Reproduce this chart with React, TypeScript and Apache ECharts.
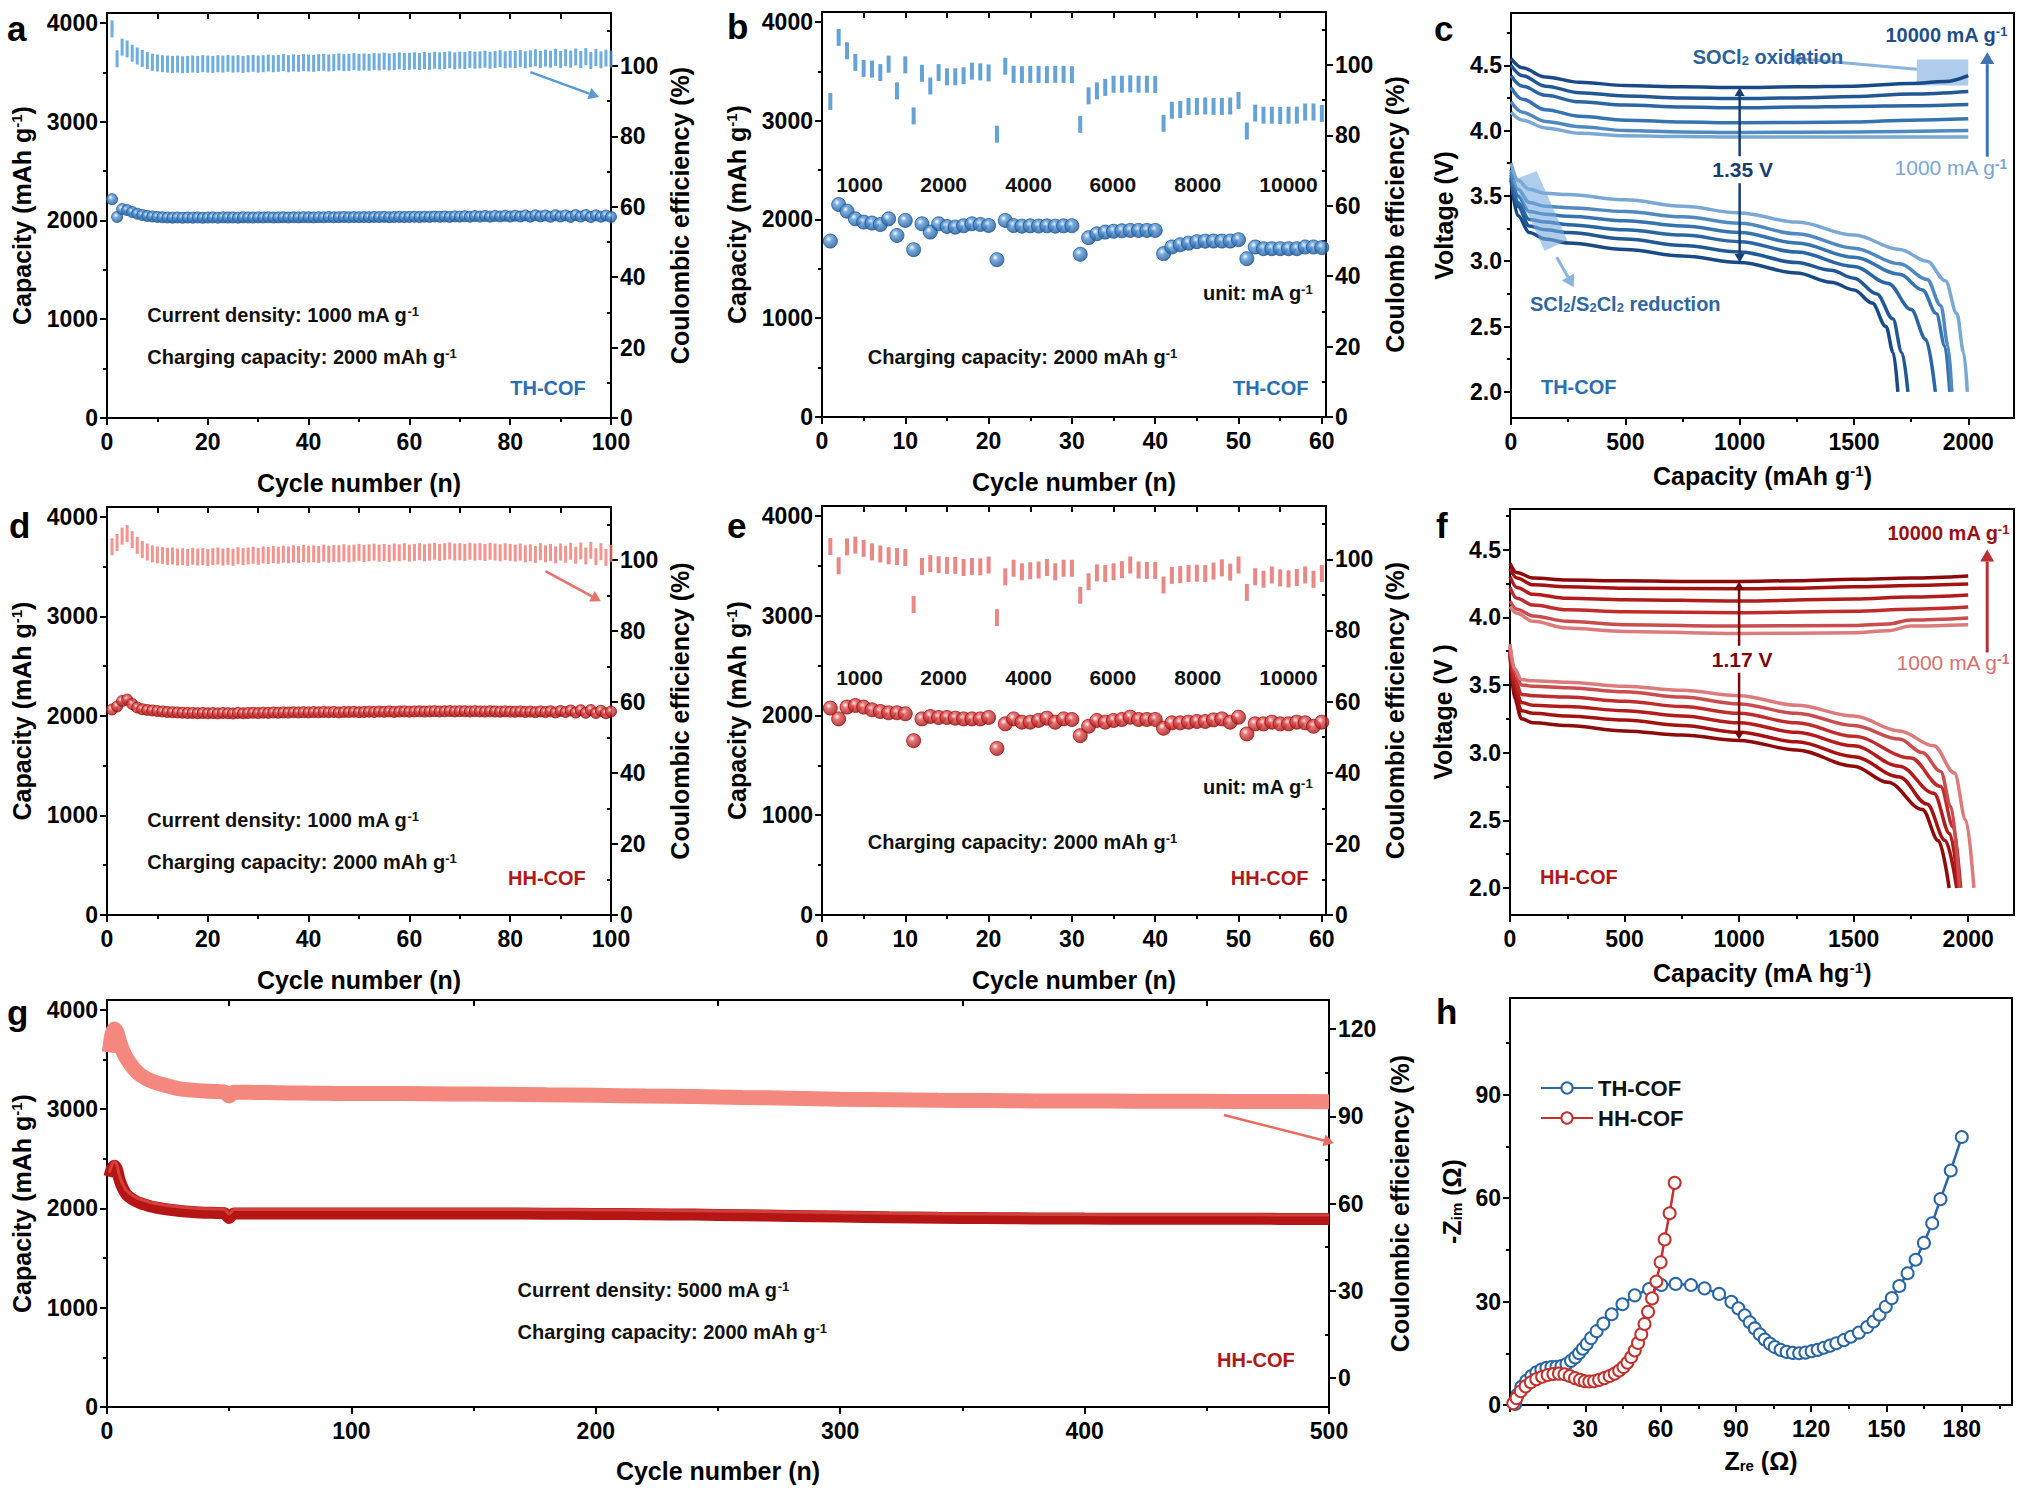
import React, { useEffect, useRef } from "react";
import * as echarts from "echarts";

const FONT = "Arial, 'Liberation Sans', Helvetica, sans-serif";

// ---------- tick arrays ----------
const capMajor = [0, 1000, 2000, 3000, 4000];
const capMinor = [500, 1500, 2500, 3500];
const ceMajor = [0, 20, 40, 60, 80, 100];
const ceMinor = [10, 30, 50, 70, 90, 110];
const cyc100Major = [0, 20, 40, 60, 80, 100];
const cyc100Minor = [10, 30, 50, 70, 90];
const cyc100Top = [10, 20, 30, 40, 50, 60, 70, 80, 90];
const cyc60Major = [0, 10, 20, 30, 40, 50, 60];
const cyc60Minor = [5, 15, 25, 35, 45, 55];
const cyc60Top = [5, 10, 15, 20, 25, 30, 35, 40, 45, 50, 55];
const vMajor = [2, 2.5, 3, 3.5, 4, 4.5];
const vMinor = [2.25, 2.75, 3.25, 3.75, 4.25, 4.75];
const qMajor = [0, 500, 1000, 1500, 2000];
const qMinor = [250, 750, 1250, 1750];
const gxMajor = [0, 100, 200, 300, 400, 500];
const gxMinor = [50, 150, 250, 350, 450];
const gceMajor = [0, 30, 60, 90, 120];
const gceMinor = [15, 45, 75, 105];
const hxMajor = [0, 30, 60, 90, 120, 150, 180];
const hxLabels = [30, 60, 90, 120, 150, 180];
const hxMinor = [15, 45, 75, 105, 135, 165, 195];
const hyMajor = [0, 30, 60, 90];
const hyMinor = [15, 45, 75, 105];

// ---------- panel a (TH-COF, 1000 mA/g, 100 cycles) ----------
const cyclesA = Array.from({ length: 100 }, (_, i) => i + 1);
const ceA = [
  110.5, 102.0, 105.3, 104.8, 103.6, 102.8, 102.1, 101.5, 101.0, 100.8,
  100.6, 100.5, 100.4, 100.5, 100.3, 100.4, 100.5, 100.4, 100.6, 100.5,
  100.4, 100.6, 100.5, 100.7, 100.5, 100.6, 100.4, 100.6, 100.7, 100.5,
  100.6, 100.8, 100.6, 100.7, 100.9, 100.6, 100.8, 100.7, 100.9, 100.8,
  100.7, 100.9, 101.0, 100.8, 100.9, 101.1, 100.9, 101.0, 101.2, 101.0,
  101.1, 101.0, 101.2, 101.1, 101.3, 101.1, 101.2, 101.4, 101.2, 101.3,
  101.4, 101.2, 101.5, 101.3, 101.6, 101.4, 101.5, 101.7, 101.4, 101.6,
  101.5, 101.8, 101.6, 101.7, 101.9, 101.6, 101.8, 102.0, 101.7, 101.9,
  101.8, 102.1, 101.7, 102.0, 102.3, 101.8, 102.2, 101.9, 102.4, 101.8,
  102.3, 101.9, 102.5, 101.8, 102.6, 101.5, 102.4, 101.7, 102.2, 101.9,
];
const capA = [
  2215, 2035, 2115, 2105, 2085, 2068, 2055, 2045, 2040, 2036,
  2032, 2030, 2028, 2030, 2027, 2029, 2028, 2030, 2027, 2029,
  2030, 2028, 2031, 2029, 2030, 2028, 2031, 2030, 2029, 2031,
  2030, 2032, 2030, 2031, 2033, 2030, 2032, 2031, 2033, 2032,
  2031, 2033, 2032, 2034, 2032, 2033, 2035, 2032, 2034, 2033,
  2034, 2033, 2035, 2034, 2036, 2033, 2035, 2036, 2034, 2036,
  2037, 2035, 2038, 2036, 2039, 2037, 2040, 2036, 2041, 2038,
  2042, 2037, 2044, 2039, 2045, 2038, 2046, 2040, 2047, 2039,
  2048, 2040, 2050, 2038, 2052, 2041, 2050, 2037, 2053, 2040,
  2051, 2036, 2054, 2039, 2055, 2035, 2052, 2038, 2050, 2036,
];

// ---------- panel b (TH-COF rate) ----------
const cyclesB = Array.from({ length: 60 }, (_, i) => i + 1);
const ceB = [
  89.6, 107.8, 104.0, 100.7, 99.0, 98.8, 97.8, 100.2, 92.6, 100.0,
  85.5, 97.6, 94.0, 97.8, 96.6, 96.6, 96.9, 98.2, 98.0, 97.7,
  80.3, 99.6, 97.3, 97.2, 97.3, 97.3, 97.2, 97.3, 97.3, 97.2,
  83.1, 91.2, 92.6, 93.6, 94.5, 94.5, 94.6, 94.5, 94.5, 94.4,
  83.4, 87.1, 87.3, 88.2, 88.2, 88.3, 88.2, 88.2, 88.3, 89.9,
  81.2, 86.3, 85.7, 85.7, 85.6, 85.7, 85.7, 86.6, 86.6, 86.2,
];
const capB = [
  1781, 2151, 2084, 2006, 1973, 1963, 1949, 2006, 1838, 1990,
  1694, 1956, 1872, 1956, 1929, 1922, 1936, 1956, 1949, 1939,
  1593, 1990, 1938, 1932, 1935, 1933, 1935, 1932, 1935, 1936,
  1647, 1815, 1855, 1872, 1880, 1885, 1889, 1889, 1889, 1889,
  1654, 1721, 1744, 1760, 1775, 1780, 1781, 1781, 1781, 1795,
  1603, 1721, 1704, 1704, 1704, 1704, 1704, 1721, 1721, 1715,
];
const rateLabels = ["1000", "2000", "4000", "6000", "8000", "10000"];
const rateLabelX = [4.5, 14.6, 24.8, 34.9, 45.1, 56];

// ---------- panel c (TH-COF voltage profiles) ----------
const rateNames = ["10000", "8000", "6000", "4000", "2000", "1000"];
const cChg10000 = [[0, 4.55], [50, 4.48], [150, 4.41], [300, 4.37], [500, 4.345], [750, 4.335], [1000, 4.33], [1250, 4.335], [1500, 4.34], [1750, 4.36], [1900, 4.375], [2000, 4.42]];
const cChg8000 = [[0, 4.5], [50, 4.42], [150, 4.34], [300, 4.29], [500, 4.265], [750, 4.25], [1000, 4.245], [1250, 4.25], [1500, 4.26], [1750, 4.28], [2000, 4.3]];
const cChg6000 = [[0, 4.42], [50, 4.34], [150, 4.27], [300, 4.22], [500, 4.195], [750, 4.18], [1000, 4.175], [1250, 4.18], [1500, 4.185], [1750, 4.19], [2000, 4.2]];
const cChg4000 = [[0, 4.33], [50, 4.24], [150, 4.16], [300, 4.11], [500, 4.08], [750, 4.065], [1000, 4.06], [1500, 4.065], [1750, 4.08], [2000, 4.09]];
const cChg2000 = [[0, 4.22], [50, 4.14], [150, 4.07], [300, 4.03], [500, 4.0], [750, 3.99], [1000, 3.985], [1500, 3.99], [2000, 4.0]];
const cChg1000 = [[0, 4.14], [50, 4.08], [150, 4.02], [300, 3.98], [500, 3.96], [750, 3.955], [1000, 3.95], [1500, 3.95], [2000, 3.95]];
const cDis10000 = [[0, 3.62], [30, 3.35], [80, 3.22], [150, 3.17], [250, 3.14], [500, 3.09], [750, 3.04], [1000, 2.99], [1250, 2.91], [1400, 2.84], [1500, 2.78], [1580, 2.68], [1640, 2.5], [1672, 2.3], [1692, 2.0]];
const cDis8000 = [[0, 3.64], [30, 3.42], [80, 3.27], [150, 3.24], [250, 3.22], [500, 3.17], [750, 3.12], [1000, 3.07], [1250, 2.99], [1400, 2.93], [1500, 2.87], [1600, 2.75], [1670, 2.56], [1710, 2.3], [1736, 2.0]];
const cDis6000 = [[0, 3.66], [30, 3.45], [80, 3.32], [150, 3.3], [250, 3.28], [500, 3.24], [750, 3.2], [1000, 3.15], [1250, 3.07], [1500, 2.96], [1650, 2.83], [1750, 2.63], [1815, 2.4], [1856, 2.0]];
const cDis4000 = [[0, 3.68], [30, 3.5], [80, 3.38], [150, 3.36], [250, 3.345], [500, 3.31], [750, 3.27], [1000, 3.22], [1250, 3.14], [1500, 3.03], [1700, 2.9], [1800, 2.78], [1860, 2.6], [1898, 2.35], [1919, 2.0]];
const cDis2000 = [[0, 3.7], [30, 3.55], [80, 3.45], [150, 3.42], [250, 3.41], [500, 3.38], [750, 3.34], [1000, 3.29], [1250, 3.21], [1500, 3.1], [1700, 2.98], [1820, 2.86], [1880, 2.66], [1912, 2.35], [1928, 2.0]];
const cDis1000 = [[0, 3.75], [30, 3.62], [80, 3.55], [150, 3.52], [250, 3.51], [500, 3.47], [750, 3.42], [1000, 3.37], [1250, 3.3], [1500, 3.2], [1700, 3.09], [1820, 3.0], [1900, 2.85], [1950, 2.6], [1980, 2.3], [1996, 2.0]];

// ---------- panel d (HH-COF, 1000 mA/g) ----------
const ceD = [
  103.8, 105.0, 106.8, 107.5, 105.8, 104.2, 103.0, 102.3, 101.8, 101.5,
  101.3, 101.1, 101.2, 100.9, 101.0, 100.8, 101.1, 100.9, 101.0, 100.8,
  101.0, 101.2, 100.9, 101.1, 100.8, 101.3, 101.0, 101.2, 101.4, 101.1,
  101.5, 101.3, 101.6, 101.4, 101.7, 101.5, 101.8, 101.6, 101.9, 101.7,
  101.8, 101.6, 102.0, 101.7, 101.9, 101.8, 102.1, 101.8, 102.0, 102.2,
  101.9, 102.1, 102.3, 102.0, 102.2, 101.9, 102.3, 102.1, 102.4, 102.0,
  102.2, 102.4, 102.1, 102.3, 102.5, 102.2, 102.4, 102.6, 102.3, 102.4,
  102.2, 102.5, 102.3, 102.4, 102.2, 102.5, 102.3, 102.1, 102.4, 102.2,
  102.0, 102.3, 101.8, 102.1, 101.6, 102.4, 101.8, 102.2, 101.5, 102.3,
  101.7, 102.5, 101.4, 102.6, 101.2, 102.8, 101.0, 102.4, 100.8, 101.9,
];
const capD = [
  2065, 2095, 2150, 2165, 2120, 2085, 2068, 2060, 2055, 2050,
  2045, 2040, 2038, 2035, 2033, 2030, 2031, 2028, 2030, 2027,
  2029, 2026, 2030, 2028, 2025, 2031, 2027, 2030, 2032, 2029,
  2033, 2031, 2035, 2032, 2036, 2034, 2037, 2035, 2038, 2036,
  2039, 2037, 2040, 2038, 2041, 2036, 2040, 2039, 2042, 2038,
  2041, 2043, 2040, 2044, 2042, 2045, 2041, 2044, 2046, 2043,
  2045, 2047, 2044, 2046, 2048, 2045, 2047, 2049, 2046, 2048,
  2047, 2045, 2048, 2046, 2044, 2047, 2045, 2043, 2046, 2044,
  2042, 2045, 2040, 2044, 2038, 2046, 2039, 2047, 2036, 2050,
  2040, 2055, 2035, 2058, 2032, 2060, 2030, 2052, 2028, 2045,
];

// ---------- panel e (HH-COF rate) ----------
const ceE = [
  103.6, 98.2, 103.5, 104.0, 103.1, 102.1, 101.5, 101.0, 100.8, 100.5,
  87.3, 98.0, 98.8, 98.5, 98.3, 98.3, 97.7, 98.0, 97.9, 98.4,
  83.6, 95.1, 97.5, 96.5, 96.8, 97.0, 97.7, 96.5, 97.5, 97.5,
  89.9, 93.7, 96.2, 96.0, 96.5, 97.1, 98.4, 97.0, 96.9, 96.9,
  92.8, 95.5, 95.7, 96.0, 96.1, 96.0, 96.7, 97.6, 96.4, 98.4,
  90.7, 95.1, 94.4, 95.6, 94.8, 94.5, 94.9, 95.6, 94.4, 96.0,
];
const capE = [
  2074, 1966, 2084, 2100, 2084, 2057, 2040, 2027, 2027, 2017,
  1748, 1966, 1990, 1980, 1980, 1973, 1966, 1966, 1966, 1980,
  1670, 1916, 1966, 1933, 1933, 1950, 1973, 1933, 1966, 1960,
  1798, 1892, 1950, 1933, 1950, 1960, 1983, 1960, 1960, 1960,
  1872, 1926, 1926, 1933, 1940, 1940, 1956, 1966, 1933, 1983,
  1815, 1916, 1916, 1933, 1916, 1916, 1933, 1926, 1892, 1933,
];

// ---------- panel f (HH-COF voltage profiles) ----------
const fChg10000 = [[0, 4.4], [30, 4.33], [100, 4.29], [250, 4.275], [500, 4.27], [750, 4.265], [1000, 4.265], [1250, 4.27], [1500, 4.28], [1750, 4.29], [2000, 4.305]];
const fChg8000 = [[0, 4.36], [30, 4.29], [100, 4.24], [250, 4.225], [500, 4.215], [1000, 4.21], [1250, 4.215], [1500, 4.225], [1750, 4.235], [2000, 4.245]];
const fChg6000 = [[0, 4.3], [30, 4.22], [100, 4.17], [250, 4.14], [500, 4.13], [1000, 4.12], [1500, 4.135], [1750, 4.15], [2000, 4.165]];
const fChg4000 = [[0, 4.22], [30, 4.14], [100, 4.09], [250, 4.055], [500, 4.04], [1000, 4.033], [1500, 4.045], [1750, 4.06], [2000, 4.075]];
const fChg2000 = [[0, 4.12], [30, 4.06], [100, 4.01], [250, 3.97], [500, 3.945], [1000, 3.935], [1500, 3.94], [1650, 3.95], [1750, 3.98], [2000, 3.995]];
const fChg1000 = [[0, 4.08], [30, 4.03], [100, 3.97], [250, 3.92], [500, 3.895], [1000, 3.88], [1500, 3.885], [1650, 3.9], [1750, 3.935], [2000, 3.945]];
const fDis10000 = [[0, 3.72], [20, 3.4], [50, 3.25], [100, 3.22], [250, 3.2], [500, 3.16], [750, 3.13], [1000, 3.09], [1250, 3.02], [1500, 2.9], [1650, 2.78], [1800, 2.58], [1870, 2.35], [1917, 2.0]];
const fDis8000 = [[0, 3.74], [20, 3.45], [50, 3.31], [100, 3.29], [250, 3.27], [500, 3.24], [750, 3.2], [1000, 3.15], [1250, 3.08], [1500, 2.97], [1700, 2.82], [1820, 2.62], [1900, 2.35], [1950, 2.0]];
const fDis6000 = [[0, 3.75], [20, 3.5], [50, 3.37], [100, 3.35], [250, 3.34], [500, 3.31], [750, 3.27], [1000, 3.22], [1250, 3.15], [1500, 3.05], [1700, 2.9], [1850, 2.7], [1920, 2.4], [1958, 2.0]];
const fDis4000 = [[0, 3.76], [20, 3.55], [50, 3.43], [100, 3.42], [250, 3.41], [500, 3.38], [750, 3.34], [1000, 3.29], [1250, 3.22], [1500, 3.12], [1750, 2.96], [1880, 2.75], [1935, 2.45], [1967, 2.0]];
const fDis2000 = [[0, 3.78], [20, 3.6], [50, 3.5], [100, 3.49], [250, 3.48], [500, 3.45], [750, 3.41], [1000, 3.36], [1250, 3.29], [1500, 3.2], [1700, 3.1], [1800, 3.0], [1880, 2.86], [1925, 2.6], [1962, 2.0]];
const fDis1000 = [[0, 3.8], [20, 3.62], [50, 3.54], [100, 3.53], [250, 3.52], [500, 3.49], [750, 3.46], [1000, 3.42], [1250, 3.35], [1500, 3.27], [1700, 3.16], [1850, 3.05], [1940, 2.85], [1990, 2.5], [2025, 2.0]];

// ---------- panel g (HH-COF, 5000 mA/g, 500 cycles) ----------
const gCycles = [1, 2, 3, 4, 5, 6, 7, 8, 10, 12, 14, 16, 18, 20, 25, 30, 35, 40, 45, 48, 50, 52, 55, 60, 70, 80, 90, 100, 120, 140, 160, 180, 200, 220, 240, 260, 280, 300, 320, 340, 360, 380, 400, 420, 440, 460, 480, 500];
const gCE = [112, 118, 120, 119, 116, 113.5, 111.5, 110, 107.5, 105.5, 104, 103, 102.2, 101.6, 100.4, 99.4, 99.0, 98.7, 98.5, 98.4, 97.0, 98.3, 98.3, 98.2, 98.1, 98.0, 97.9, 97.8, 97.8, 97.7, 97.6, 97.4, 97.2, 97.0, 96.8, 96.5, 96.2, 95.9, 95.7, 95.5, 95.4, 95.3, 95.3, 95.2, 95.2, 95.1, 95.1, 95.0];
const gCap = [2320, 2400, 2430, 2400, 2300, 2230, 2180, 2140, 2100, 2070, 2050, 2035, 2020, 2010, 1990, 1975, 1965, 1958, 1955, 1952, 1905, 1950, 1950, 1950, 1950, 1950, 1950, 1950, 1950, 1950, 1950, 1948, 1945, 1942, 1938, 1932, 1925, 1918, 1912, 1907, 1903, 1900, 1898, 1897, 1896, 1896, 1895, 1895];

// ---------- panel h (EIS) ----------
const thZre = [2.1, 3, 4.5, 6.5, 8.5, 10.5, 12.5, 14.5, 16.5, 18.5, 20.5, 22.5, 24.3, 26, 27.5, 29, 30.6, 32.3, 34.5, 37.2, 40.5, 44.8, 49.7, 55.4, 60.3, 66, 72.1, 77.5, 83.3, 88.2, 91, 93.5, 95.5, 97.5, 99.5, 101.5, 103.5, 105.5, 107.8, 110.2, 112.7, 115.2, 117.7, 120.2, 122.6, 125, 127.5, 130, 133, 135.8, 139, 142.3, 144.8, 147.2, 149.7, 152.1, 155.1, 158.4, 161.6, 164.9, 168.2, 171.5, 175.6, 180];
const thZim = [0.3, 3, 5.3, 7, 8.4, 9.5, 10.3, 10.8, 11, 11.1, 11.3, 11.9, 12.8, 13.8, 15, 16.3, 17.7, 19.4, 21.4, 23.6, 26.3, 29.2, 31.8, 33.6, 34.8, 35.1, 34.8, 33.8, 32.2, 29.9, 28, 26, 24, 22.2, 20.5, 19, 17.8, 16.8, 16, 15.4, 15.1, 15, 15.2, 15.6, 16, 16.6, 17.2, 17.9, 18.8, 19.8, 21, 22.6, 24.2, 26.2, 28.5, 31, 34.5, 38.2, 42.1, 47, 52.7, 59.7, 68, 77.7];
const hhZre = [1.3, 2.6, 4.3, 6.2, 8.3, 10.5, 12.8, 15, 17.3, 19.5, 21.7, 23.8, 25.9, 27.9, 29.8, 31.6, 33.5, 35.5, 37.6, 39.7, 41.7, 43.5, 45.2, 46.8, 48.3, 49.7, 51, 52.3, 53.6, 55, 56.6, 58.3, 60, 61.6, 63.6, 65.6];
const hhZim = [0.5, 2, 4, 5.4, 6.6, 7.5, 8.2, 8.7, 9, 9.1, 8.9, 8.4, 7.8, 7.3, 6.9, 6.8, 6.9, 7.3, 7.8, 8.4, 9.1, 10, 11, 12.3, 13.9, 15.8, 18, 20.5, 23.5, 27, 30.9, 35.8, 41.4, 48, 55.6, 64.4];

// ---------- helpers ----------
const zip = (xs: number[], ys: number[]) => xs.map((x, i) => [x, ys[i]]);
const AXRICH = {
  sup: { fontFamily: FONT, fontSize: 15, fontWeight: "bold", color: "#000", verticalAlign: "top" },
  sub: { fontFamily: FONT, fontSize: 15, fontWeight: "bold", color: "#000", verticalAlign: "bottom" },
};
const CAP_NAME = "Capacity (mAh g{sup|-1})";
const plain = (v: number) => String(v);

type AxOpt = {
  grid: number; min: number; max: number; pos: string;
  major?: number[]; minor?: number[]; labels?: number[];
  inside?: boolean; minorInside?: boolean; name?: string; gap?: number;
  fmt?: (v: number) => string; tickLen?: number; margin?: number;
};

function addAxis(list: any[], o: AxOpt) {
  const base = { type: "value", gridIndex: o.grid, min: o.min, max: o.max, position: o.pos, splitLine: { show: false }, axisPointer: { show: false } };
  const idx = list.length;
  list.push({
    ...base,
    name: o.name || "",
    nameLocation: "middle",
    nameGap: o.gap ?? 30,
    nameTextStyle: { fontFamily: FONT, fontSize: 25, fontWeight: "bold", color: "#000", rich: AXRICH },
    axisLine: { show: true, onZero: false, lineStyle: { color: "#000", width: 2 } },
    axisTick: { show: !!(o.major && o.major.length), inside: !!o.inside, length: o.tickLen ?? 7, customValues: o.major || [], lineStyle: { color: "#000", width: 2 } },
    axisLabel: { show: !!o.labels, customValues: o.labels || [], margin: o.margin ?? 9, fontFamily: FONT, fontSize: 23, fontWeight: "bold", color: "#000", formatter: o.fmt || plain },
  });
  if (o.minor && o.minor.length) {
    list.push({
      ...base,
      axisLine: { show: false, onZero: false },
      axisTick: { show: true, inside: !!o.minorInside, length: 4, customValues: o.minor, lineStyle: { color: "#000", width: 2 } },
      axisLabel: { show: false },
    });
  }
  return idx;
}

function sphere(light: string, dark: string) {
  return new echarts.graphic.RadialGradient(0.38, 0.35, 0.7, [
    { offset: 0, color: "#ffffff" },
    { offset: 0.3, color: light },
    { offset: 1, color: dark },
  ]);
}

function buildOption() {
  const xA: any[] = [];
  const yA: any[] = [];
  const grids = [
    { left: 107, top: 13, width: 504, height: 405 },
    { left: 822, top: 12, width: 504, height: 405 },
    { left: 1511, top: 13, width: 503, height: 405 },
    { left: 107, top: 507, width: 504, height: 408 },
    { left: 822, top: 506, width: 504, height: 409 },
    { left: 1510, top: 509, width: 504, height: 406 },
    { left: 107, top: 1000, width: 1222, height: 407 },
    { left: 1510, top: 998, width: 502, height: 407 },
  ];

  const cycling = (grid: number, xmax: number, xMajor: number[], xMinor: number[], xTop: number[], rightName: string) => {
    const x = addAxis(xA, { grid, min: 0, max: xmax, pos: "bottom", major: xMajor, minor: xMinor, labels: xMajor, name: "Cycle number (n)", gap: 52, margin: 12 });
    addAxis(xA, { grid, min: 0, max: xmax, pos: "top", major: xTop, inside: true, tickLen: 6 });
    const yl = addAxis(yA, { grid, min: 0, max: 4100, pos: "left", major: capMajor, minor: capMinor, labels: capMajor, name: CAP_NAME, gap: 73 });
    const yr = addAxis(yA, { grid, min: 0, max: 115, pos: "right", major: ceMajor, minor: ceMinor, minorInside: true, labels: ceMajor, name: rightName, gap: 56 });
    return { x, yl, yr };
  };
  const voltage = (grid: number, vmax: number, xName: string, yName: string) => {
    const x = addAxis(xA, { grid, min: 0, max: 2200, pos: "bottom", major: qMajor, minor: qMinor, labels: qMajor, name: xName, gap: 45, margin: 12 });
    addAxis(xA, { grid, min: 0, max: 2200, pos: "top" });
    const y = addAxis(yA, { grid, min: 1.8, max: vmax, pos: "left", major: vMajor, minor: vMinor, labels: vMajor, name: yName, gap: 55, fmt: (v: number) => v.toFixed(1) });
    addAxis(yA, { grid, min: 1.8, max: vmax, pos: "right" });
    return { x, y };
  };

  const A = cycling(0, 100, cyc100Major, cyc100Minor, cyc100Top, "Coulombic efficiency (%)");
  const B = cycling(1, 60.5, cyc60Major, cyc60Minor, cyc60Top, "Coulomb efficiency (%)");
  const C = voltage(2, 4.9, "Capacity (mAh g{sup|-1})", "Voltage (V)");
  const D = cycling(3, 100, cyc100Major, cyc100Minor, cyc100Top, "Coulombic efficiency (%)");
  const E = cycling(4, 60.5, cyc60Major, cyc60Minor, cyc60Top, "Coulombic efficiency (%)");
  const F = voltage(5, 4.8, "Capacity (mA hg{sup|-1})", "Voltage (V )");

  const Gx = addAxis(xA, { grid: 6, min: 0, max: 500, pos: "bottom", major: gxMajor, minor: gxMinor, labels: gxMajor, name: "Cycle number (n)", gap: 51, margin: 12 });
  addAxis(xA, { grid: 6, min: 0, max: 500, pos: "top", major: gxMinor, inside: true, tickLen: 6 });
  const Gyl = addAxis(yA, { grid: 6, min: 0, max: 4100, pos: "left", major: capMajor, minor: capMinor, labels: capMajor, name: CAP_NAME, gap: 73 });
  const Gyr = addAxis(yA, { grid: 6, min: -10, max: 130, pos: "right", major: gceMajor, minor: gceMinor, minorInside: true, labels: gceMajor, name: "Coulombic efficiency (%)", gap: 56 });

  const Hx = addAxis(xA, { grid: 7, min: 0, max: 200, pos: "bottom", major: hxMajor, minor: hxMinor, labels: hxLabels, name: "Z{sub|re} (Ω)", gap: 43, margin: 12 });
  addAxis(xA, { grid: 7, min: 0, max: 200, pos: "top" });
  const Hy = addAxis(yA, { grid: 7, min: 0, max: 118, pos: "left", major: hyMajor, minor: hyMinor, labels: hyMajor, name: "-Z{sub|im} (Ω)", gap: 46 });
  addAxis(yA, { grid: 7, min: 0, max: 118, pos: "right" });

  const blueSphere = sphere("#5b9ad8", "#174f8f");
  const redSphere = sphere("#e25454", "#9a0b0b");
  const series: any[] = [];
  const ceBars = (name: string, ax: any, xs: number[], ys: number[], color: string, size: number[]) =>
    series.push({ type: "scatter", name, xAxisIndex: ax.x, yAxisIndex: ax.yr, symbol: "rect", symbolSize: size, itemStyle: { color }, data: zip(xs, ys), z: 2 });
  const capBalls = (name: string, ax: any, xs: number[], ys: number[], fill: any, border: string, size: number) =>
    series.push({ type: "scatter", name, xAxisIndex: ax.x, yAxisIndex: ax.yl, symbol: "circle", symbolSize: size, itemStyle: { color: fill, borderColor: border, borderWidth: 1 }, data: zip(xs, ys), z: 3 });

  ceBars("aCE", A, cyclesA, ceA, "#4b98d6", [3, 17]);
  capBalls("aCap", A, cyclesA, capA, blueSphere, "#1d5a9a", 11);
  ceBars("bCE", B, cyclesB, ceB, "#3f8ccc", [4, 17]);
  capBalls("bCap", B, cyclesB, capB, blueSphere, "#1d5a9a", 14);
  ceBars("dCE", D, cyclesA, ceD, "#f07a72", [3, 17]);
  capBalls("dCap", D, cyclesA, capD, redSphere, "#a01010", 11);
  ceBars("eCE", E, cyclesB, ceE, "#e46a66", [4, 17]);
  capBalls("eCap", E, cyclesB, capE, redSphere, "#a01010", 14);

  const blues = ["#1a4a85", "#215894", "#2a66a3", "#3674b0", "#4f89c0", "#7aa8d4"];
  const reds = ["#8e0b0b", "#a41212", "#b21c1c", "#be2c2c", "#cb4c4c", "#dc7b7b"];
  const cChg = [cChg10000, cChg8000, cChg6000, cChg4000, cChg2000, cChg1000];
  const cDis = [cDis10000, cDis8000, cDis6000, cDis4000, cDis2000, cDis1000];
  const fChg = [fChg10000, fChg8000, fChg6000, fChg4000, fChg2000, fChg1000];
  const fDis = [fDis10000, fDis8000, fDis6000, fDis4000, fDis2000, fDis1000];
  const vline = (name: string, ax: any, data: number[][], color: string, extra: any = {}) =>
    series.push({ type: "line", name, xAxisIndex: ax.x, yAxisIndex: ax.y, data, showSymbol: false, symbol: "none", smooth: 0.35, smoothMonotone: "x", lineStyle: { color, width: 3.5 }, z: 3, ...extra });
  rateNames.forEach((r, i) => {
    vline("cChg" + r, C, cChg[i], blues[i], i === 0 ? {
      markArea: { silent: true, itemStyle: { color: "rgba(120,170,222,0.6)" }, data: [[{ coord: [1775, 4.545] }, { coord: [2000, 4.345] }]] },
    } : {});
    vline("cDis" + r, C, cDis[i], blues[i]);
    vline("fChg" + r, F, fChg[i], reds[i]);
    vline("fDis" + r, F, fDis[i], reds[i]);
  });

  series.push({ type: "line", name: "gCE", xAxisIndex: Gx, yAxisIndex: Gyr, data: zip(gCycles, gCE), symbol: "none", smooth: 0.3, lineStyle: { color: "#f4877e", width: 15, cap: "butt" }, z: 2 });
  series.push({ type: "line", name: "gCap", xAxisIndex: Gx, yAxisIndex: Gyl, data: zip(gCycles, gCap), symbol: "none", smooth: 0.3, lineStyle: { color: "#b51515", width: 12, cap: "butt" }, z: 3 });
  series.push({ type: "line", name: "gCapEdge", xAxisIndex: Gx, yAxisIndex: Gyl, data: zip(gCycles, gCap.map((v) => v + 40)), symbol: "none", smooth: 0.3, lineStyle: { color: "#d2403c", width: 3 }, z: 4 });

  series.push({ type: "line", name: "TH-COF", xAxisIndex: Hx, yAxisIndex: Hy, data: zip(thZre, thZim), symbol: "emptyCircle", symbolSize: 12, lineStyle: { color: "#2a65a4", width: 2.5 }, itemStyle: { color: "#2a65a4", borderWidth: 1.8 }, z: 3 });
  series.push({ type: "line", name: "HH-COF", xAxisIndex: Hx, yAxisIndex: Hy, data: zip(hhZre, hhZim), symbol: "emptyCircle", symbolSize: 12, lineStyle: { color: "#c4302c", width: 2.5 }, itemStyle: { color: "#c4302c", borderWidth: 1.8 }, z: 4 });

  return {
    option: {
      animation: false,
      backgroundColor: "#ffffff",
      textStyle: { fontFamily: FONT },
      grid: grids,
      xAxis: xA,
      yAxis: yA,
      series,
      legend: {
        data: ["TH-COF", "HH-COF"], orient: "vertical", left: 1535, top: 1072, itemWidth: 52, itemHeight: 14, itemGap: 8,
        selectedMode: false, textStyle: { fontFamily: FONT, fontSize: 22, fontWeight: "bold", color: "#111" },
      },
    },
    axes: { A, B, C, D, E, F, Gx, Gyl, Gyr, Hx, Hy },
  };
}

function richFor(fill: string, size: number) {
  const s = Math.round(size * 0.65);
  return {
    sup: { fontFamily: FONT, fontSize: s, fontWeight: "bold", fill, verticalAlign: "top" },
    sub: { fontFamily: FONT, fontSize: s, fontWeight: "bold", fill, verticalAlign: "bottom" },
  };
}

function buildGraphics(chart: any, ax: any) {
  const G: any[] = [];
  const P = (xi: number, yi: number, x: number, y: number) => chart.convertToPixel({ xAxisIndex: xi, yAxisIndex: yi }, [x, y]) as number[];
  const text = (p: number[], t: string, o: any = {}) => {
    const fill = o.fill || "#111";
    const size = o.fontSize || 20;
    G.push({
      type: "text", x: p[0], y: p[1], silent: true, z: 60,
      style: { text: t, fontFamily: FONT, fontSize: size, fontWeight: o.fontWeight || "bold", fill, align: o.align || "left", verticalAlign: "middle", rich: richFor(fill, size), backgroundColor: o.bg, padding: o.bg ? [3, 2] : 0 },
    });
  };
  const arrow = (p1: number[], p2: number[], color: string, width: number, head: number) => {
    const dx = p2[0] - p1[0], dy = p2[1] - p1[1];
    const len = Math.hypot(dx, dy) || 1;
    const ux = dx / len, uy = dy / len;
    const bx = p2[0] - ux * head * 1.7, by = p2[1] - uy * head * 1.7;
    const nx = -uy, ny = ux;
    G.push({ type: "line", silent: true, z: 55, shape: { x1: p1[0], y1: p1[1], x2: bx, y2: by }, style: { stroke: color, lineWidth: width } });
    G.push({ type: "polygon", silent: true, z: 55, shape: { points: [[p2[0], p2[1]], [bx + nx * head, by + ny * head], [bx - nx * head, by - ny * head]] }, style: { fill: color } });
  };
  const letter = (x: number, baseline: number, t: string) =>
    G.push({ type: "text", x, y: baseline - 12, silent: true, z: 60, style: { text: t, fontFamily: FONT, fontSize: 35, fontWeight: "bold", fill: "#000", align: "left", verticalAlign: "middle" } });

  const { A, B, C, D, E, F, Gx, Gyl } = ax;
  const TH = "#2d6db2";
  const HH = "#b01818";

  // a
  text(P(A.x, A.yl, 8, 1043), "Current density: 1000 mA g{sup|-1}");
  text(P(A.x, A.yl, 8, 617), "Charging capacity: 2000 mAh g{sup|-1}");
  text(P(A.x, A.yl, 95, 304), "TH-COF", { fill: TH, align: "right" });
  arrow(P(A.x, A.yl, 84, 3502), P(A.x, A.yl, 97.6, 3249), "#5a9bd5", 2.5, 6);
  // d
  text(P(D.x, D.yl, 8, 957), "Current density: 1000 mA g{sup|-1}");
  text(P(D.x, D.yl, 8, 534), "Charging capacity: 2000 mAh g{sup|-1}");
  text(P(D.x, D.yl, 95, 373), "HH-COF", { fill: HH, align: "right" });
  arrow(P(D.x, D.yl, 87, 3456), P(D.x, D.yl, 98, 3154), "#e8706a", 2.5, 6);
  // b
  rateLabels.forEach((t, i) => text(P(B.x, B.yl, rateLabelX[i], 2350), t, { align: "center", fontSize: 21 }));
  text(P(B.x, B.yl, 58.9, 1252), "unit: mA g{sup|-1}", { align: "right" });
  text(P(B.x, B.yl, 5.5, 606), "Charging capacity: 2000 mAh g{sup|-1}");
  text(P(B.x, B.yl, 58.4, 293), "TH-COF", { fill: TH, align: "right" });
  // e
  rateLabels.forEach((t, i) => text(P(E.x, E.yl, rateLabelX[i], 2380), t, { align: "center", fontSize: 21 }));
  text(P(E.x, E.yl, 58.9, 1280), "unit: mA g{sup|-1}", { align: "right" });
  text(P(E.x, E.yl, 5.5, 735), "Charging capacity: 2000 mAh g{sup|-1}");
  text(P(E.x, E.yl, 58.4, 373), "HH-COF", { fill: HH, align: "right" });
  // c
  text(P(C.x, C.y, 795, 4.56), "SOCl{sub|2} oxidation", { fill: "#2c5f9a" });
  arrow(P(C.x, C.y, 1775, 4.47), P(C.x, C.y, 1215, 4.555), "#8ab4de", 3, 7);
  text(P(C.x, C.y, 2171, 4.73), "10000 mA g{sup|-1}", { fill: "#1f4f8a", align: "right" });
  text(P(C.x, C.y, 2171, 3.72), "1000 mA g{sup|-1}", { fill: "#7aa6d2", align: "right", fontWeight: "normal", fontSize: 21 });
  arrow(P(C.x, C.y, 2083, 3.80), P(C.x, C.y, 2083, 4.60), "#3f74ae", 3, 7);
  arrow(P(C.x, C.y, 1000, 3.66), P(C.x, C.y, 1000, 4.33), "#163f70", 2.5, 5);
  arrow(P(C.x, C.y, 1000, 3.66), P(C.x, C.y, 1000, 2.99), "#163f70", 2.5, 5);
  text(P(C.x, C.y, 1013, 3.70), "1.35 V", { fill: "#163f70", align: "center", fontSize: 21, bg: "#ffffff" });
  G.push({
    type: "polygon", silent: true, z: 50,
    shape: { points: [P(C.x, C.y, 7, 3.62), P(C.x, C.y, 112, 3.69), P(C.x, C.y, 246, 3.16), P(C.x, C.y, 147, 3.08)] },
    style: { fill: "rgba(120,170,222,0.6)" },
  });
  arrow(P(C.x, C.y, 200, 3.03), P(C.x, C.y, 275, 2.80), "#8ab4de", 3, 7);
  text(P(C.x, C.y, 83, 2.67), "SCl{sub|2}/S{sub|2}Cl{sub|2} reduction", { fill: "#2f66a3" });
  text(P(C.x, C.y, 131, 2.04), "TH-COF", { fill: TH });
  // f
  text(P(F.x, F.y, 2180, 4.625), "10000 mA g{sup|-1}", { fill: "#9a1010", align: "right" });
  text(P(F.x, F.y, 2180, 3.667), "1000 mA g{sup|-1}", { fill: "#d87070", align: "right", fontWeight: "normal", fontSize: 21 });
  arrow(P(F.x, F.y, 2083, 3.74), P(F.x, F.y, 2083, 4.50), "#b83030", 3, 7);
  arrow(P(F.x, F.y, 1000, 3.66), P(F.x, F.y, 1000, 4.265), "#7a0a0a", 2.5, 5);
  arrow(P(F.x, F.y, 1000, 3.66), P(F.x, F.y, 1000, 3.095), "#7a0a0a", 2.5, 5);
  text(P(F.x, F.y, 1013, 3.69), "1.17 V", { fill: "#7a0a0a", align: "center", fontSize: 21, bg: "#ffffff" });
  text(P(F.x, F.y, 131, 2.08), "HH-COF", { fill: HH });
  // g
  text(P(Gx, Gyl, 168, 1179), "Current density: 5000 mA g{sup|-1}");
  text(P(Gx, Gyl, 168, 756), "Charging capacity: 2000 mAh g{sup|-1}");
  text(P(Gx, Gyl, 486, 474), "HH-COF", { fill: HH, align: "right" });
  arrow(P(Gx, Gyl, 457, 2942), P(Gx, Gyl, 502, 2660), "#ea6a60", 2.5, 6);

  // panel letters
  letter(7, 40, "a");
  letter(727, 38, "b");
  letter(1434, 40, "c");
  letter(9, 537, "d");
  letter(727, 537, "e");
  letter(1436, 537, "f");
  letter(7, 1024, "g");
  letter(1436, 1023, "h");
  return G;
}

export default function App() {
  const ref = useRef<HTMLDivElement>(null);
  useEffect(() => {
    if (!ref.current) return;
    const chart = echarts.init(ref.current, null, { renderer: "svg" });
    const { option, axes } = buildOption();
    chart.setOption(option as any);
    chart.setOption({ graphic: buildGraphics(chart, axes) } as any);
    return () => chart.dispose();
  }, []);
  return <div ref={ref} style={{ position: "absolute", left: 0, top: 0, width: 2026, height: 1488, background: "#fff" }} />;
}
